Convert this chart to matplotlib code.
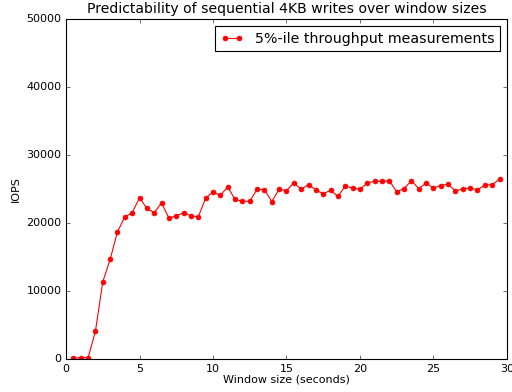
import matplotlib
matplotlib.use("Agg")
import matplotlib.pyplot as plt

window_sizes = [0.5 * i for i in range(1, 60)]
iops = [150, 200, 200, 4100, 11350, 14650, 18700, 20900, 21500, 23700,
        22150, 21500, 22950, 20700, 21050, 21500, 21050, 20900, 23650, 24550,
        24050, 25300, 23450, 23200, 23200, 24950, 24900, 23150, 24950, 24750,
        25900, 24950, 25650, 24850, 24300, 24800, 23900, 25400, 25150, 24950,
        25850, 26150, 26100, 26200, 24600, 25050, 26200, 25050, 25850, 25150,
        25500, 25700, 24700, 25000, 25150, 24850, 25600, 25600, 26450]

plt.style.use('classic')
plt.rcParams['figure.facecolor'] = 'white'
plt.rcParams['savefig.facecolor'] = 'white'

fig = plt.figure(figsize=(6.4, 4.9), dpi=80)
ax = fig.add_subplot(111)
ax.plot(window_sizes, iops, 'r-', marker='o', markersize=4.5, markeredgecolor='r',
        label='5%-ile throughput measurements')
ax.set_xlim(0, 30)
ax.set_ylim(0, 50000)
ax.set_xlabel('Window size (seconds)', fontsize=10, labelpad=1)
ax.set_ylabel('IOPS', fontsize=10)
ax.set_title('Predictability of sequential 4KB writes over window sizes', fontsize=12.6)
ax.tick_params(labelsize=10)
ax.legend(loc='upper right', numpoints=2, fontsize=12.7, handlelength=1.6)
fig.subplots_adjust(left=0.129, right=0.99, top=0.952, bottom=0.084)
fig.savefig('out.png', dpi=80)
